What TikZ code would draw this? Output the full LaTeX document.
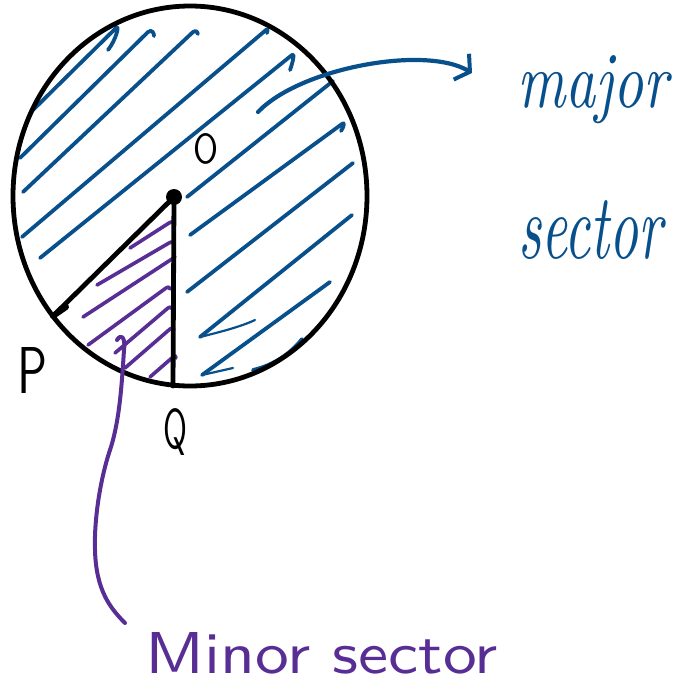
\documentclass[tikz,border=0pt]{standalone}
\usepackage{graphicx}
\usetikzlibrary{arrows.meta}
\definecolor{hblue}{RGB}{8,80,140}
\definecolor{hpurple}{RGB}{88,46,148}
\begin{document}
\begin{tikzpicture}[x=0.5pt,y=-0.5pt,line cap=round,line join=round,
  outline/.style={draw=black,line width=2.4pt},
  bhatch/.style={draw=hblue,line width=1.9pt},
  phatch/.style={draw=hpurple,line width=1.8pt},
  lbl/.style={inner sep=0pt,outer sep=0pt,anchor=base west},
  cdot/.style={circle,fill=black,inner sep=0pt,minimum size=8pt}]
\useasboundingbox (0,0) rectangle (679,691);

% blue hatching (major sector)
\draw[bhatch] (33,110) -- (116,28) .. controls (120,24) and (116,40) .. (108,50);
\draw[bhatch] (20,158) -- (148,32) .. controls (152,29) and (154,33) .. (154,36);
\draw[bhatch] (23,192) -- (193,32) .. controls (196,30) and (198,32) .. (198,34);
\draw[bhatch] (22,237) -- (266,30) .. controls (268,28) and (268,31) .. (267,33);
\draw[bhatch] (40,258) -- (292,55) .. controls (295,52) and (293,62) .. (290,70);
\draw[bhatch] (187,197) -- (333,81);
\draw[bhatch] (190,235) -- (342,124) .. controls (345,121) and (344,127) .. (341,131);
\draw[bhatch] (187,292) -- (353,163);
\draw[bhatch] (352,215) -- (200,337);
\draw[draw=hblue,line width=1.1pt] (200,337) .. controls (220,332) and (240,327) .. (255,320);
\draw[bhatch] (330,282) -- (202,375);
\draw[draw=hblue,line width=1.1pt] (202,375) -- (233,368);
\draw[bhatch] (253,370) .. controls (275,365) and (292,352) .. (302,339);

% purple hatching (minor sector)
\draw[phatch] (130,248) -- (169,223) .. controls (172,221) and (174,222) .. (174,225);
\draw[phatch] (97,285) -- (169,243) .. controls (172,241) and (174,242) .. (174,245);
\draw[phatch] (83,317) -- (175,257);
\draw[phatch] (88,345) -- (166,288) .. controls (168,286) and (170,287) .. (170,289);
\draw[phatch] (115,353) -- (168,308) .. controls (170,306) and (172,307) .. (172,309);
\draw[phatch] (125,368) -- (170,329) .. controls (172,327) and (174,328) .. (174,330);
\draw[phatch] (150,377) -- (173,357) .. controls (175,355) and (176,356) .. (176,358);

% circle outline
\draw[outline] (190,196) ellipse [x radius=177, y radius=190];

% centre and radii
\node[cdot] (O) at (174,197) {};
\coordinate (P) at (53,316);
\coordinate (Q) at (173,386);
\draw[outline] (O.center) -- (P);
\draw[black,line width=3pt] (P) -- (66,307);
\draw[outline] (O.center) -- (Q);

% point labels
\node[lbl] (lblO) at (193,163) {\resizebox{12.5pt}{15pt}{\sffamily O}};
\node[lbl] (lblP) at (18,393) {\resizebox{15pt}{23pt}{\sffamily P}};
\node[lbl] (lblQ) at (163,448) {\resizebox{12pt}{20pt}{\sffamily Q}};

% labels
\node[lbl,text=hblue] (major) at (517,107) {\resizebox{75.5pt}{26pt}{\itshape major}};
\node[lbl,text=hblue] (sector) at (518,258) {\resizebox{72pt}{29pt}{\itshape sector}};
\node[lbl,text=hpurple] (minor) at (145,673) {\resizebox{176.5pt}{20.5pt}{\sffamily Minor sector}};

% blue arrow to "major"
\coordinate (arrS) at (258,112);
\coordinate (arrE) at (472,73);
\draw[bhatch,line width=2.1pt,-{Straight Barb[length=5pt,width=15pt,line width=2pt]}]
  (arrS) .. controls (300,68) and (425,45) .. (arrE);

% purple leader to "Minor sector"
\coordinate (mlS) at (117,340);
\coordinate (mlE) at (125,623);
\draw[phatch,line width=2pt] (mlS) .. controls (119,335) and (126,334) .. (124,350)
  .. controls (122,380) and (120,420) .. (110,450)
  .. controls (100,480) and (94,520) .. (95,550)
  .. controls (96,590) and (110,608) .. (mlE);
\end{tikzpicture}
\end{document}
